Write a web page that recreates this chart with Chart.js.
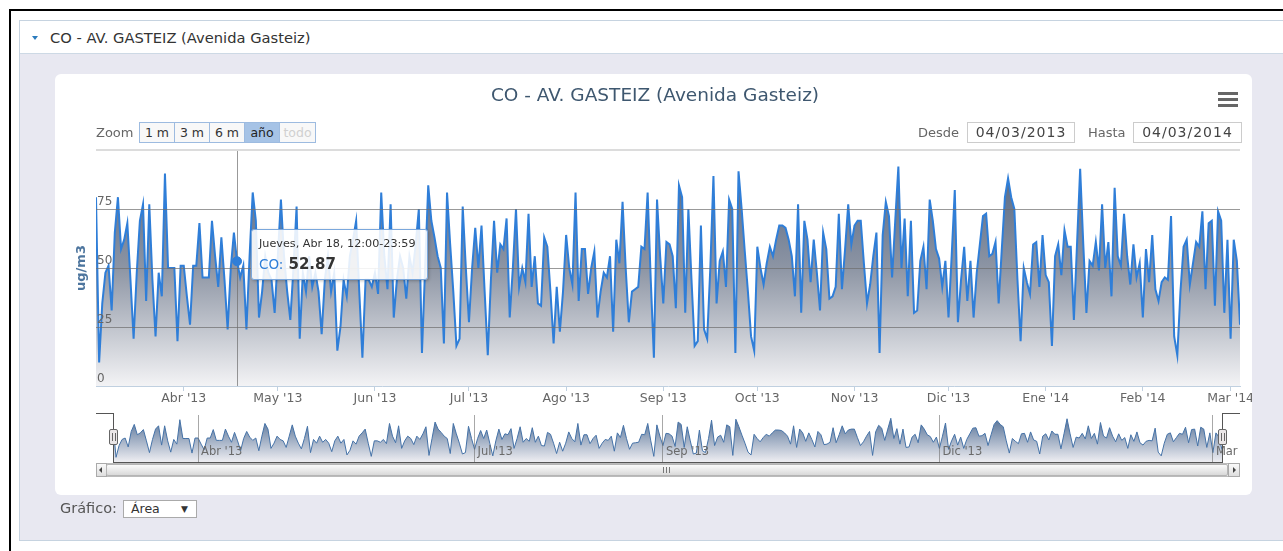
<!DOCTYPE html>
<html>
<head>
<meta charset="utf-8">
<title>CO - AV. GASTEIZ</title>
<script src="https://cdn.jsdelivr.net/npm/chart.js@4.4.1/dist/chart.umd.min.js"></script>
<style>
  body { margin: 0; width: 1283px; height: 551px; overflow: hidden; background: #fff; position: relative;
         font-family: 'DejaVu Sans', Verdana, sans-serif; }
  .abs { position: absolute; box-sizing: border-box; }
  #frame { left: 9px; top: 9px; width: 1300px; height: 600px; border-top: 2px solid #000; border-left: 2px solid #000; }
  #panel { left: 19px; top: 20px; width: 1300px; height: 521px; background: #e8e8f1; border: 1px solid #c6d3e0; }
  #panelHead { left: 20px; top: 21px; width: 1300px; height: 33px; background: #fff; border-bottom: 1px solid #cdd9e5; }
  #caret { left: 32px; top: 36px; width: 0; height: 0; border-left: 3px solid transparent; border-right: 3px solid transparent; border-top: 4px solid #2b7bbd; }
  #panelTitle { left: 50px; top: 28px; font-size: 14.7px; line-height: 20px; color: #333; white-space: nowrap; }
  #card { left: 55px; top: 74px; width: 1197px; height: 421px; background: #fff; border-radius: 6px; }
  canvas { position: absolute; }
  .lbl { font-size: 13px; color: #666; line-height: 21px; height: 21px; top: 122px; white-space: nowrap; }
  .btn { top: 122px; height: 21px; border: 1px solid #9dbbe0; background: #f8f8f8; font-size: 12.5px; line-height: 19px;
         text-align: center; color: #333; }
  .btn.sel { background: #a6c3e6; color: #222; }
  .btn.off { color: #d0d0d0; }
  .date { top: 122px; height: 21px; border: 1px solid #cccccc; background: #fff; font-size: 14px; line-height: 19px;
          text-align: center; color: #444; letter-spacing: 1px; }
  .bar { left: 1218px; width: 20px; height: 3px; background: #666; }
  #tip { display: none; width: 177px; height: 51px; background: rgba(255,255,255,0.88); border: 1px solid #7aa7dc;
         border-radius: 3px; box-shadow: 1px 1px 3px rgba(0,0,0,0.25); }
  #tip .t1 { position: absolute; left: 7px; top: 7px; font-size: 11.2px; color: #333; white-space: nowrap; }
  #tip .t2 { position: absolute; left: 7px; top: 24px; white-space: nowrap; }
  #tip .t2name { font-size: 13.5px; color: #2f7ed8; }
  #tip .t2val { font-size: 15px; font-weight: bold; color: #333; }
  .ln { background: #555; }
  .handle { top: 429px; width: 9px; height: 16px; background: #ebe7e8; border: 1px solid #666; border-radius: 2px; }
  .handle i { position: absolute; top: 3px; width: 1px; height: 8px; background: #666; }
  #scroll { left: 96px; top: 463px; width: 1144px; height: 14px; background: #eee; border: 1px solid #bbb; }
  .sbtn { top: 463px; height: 14px; border: 1px solid #aaa; background: linear-gradient(#fafafa, #dedede); }
  #thumb { left: 106px; top: 464px; width: 1122px; height: 12px; background: linear-gradient(#fbfbfb, #d9d9d9);
           border: 1px solid #b5b5b5; border-radius: 2px; }
  .grip { top: 467px; width: 1px; height: 6px; background: #777; }
  #grafLbl { left: 60px; top: 498px; font-size: 14.5px; line-height: 20px; color: #555; }
  #select { left: 123px; top: 500px; width: 74px; height: 18px; border: 1px solid #aaa; background: #fff;
            font-size: 12.5px; line-height: 16px; color: #333; padding-left: 7px; }
  #select span { position: absolute; right: 8px; top: 0; font-size: 9px; }
</style>
</head>
<body>
<div id="frame" class="abs"></div>
<div id="panel" class="abs"></div>
<div id="panelHead" class="abs"></div>
<div id="caret" class="abs"></div>
<div id="panelTitle" class="abs"></div>
<div id="card" class="abs"></div>

<canvas id="main" width="1182" height="336" style="left:70px; top:74px;"></canvas>
<canvas id="nav" width="1144" height="49" style="left:96px; top:413px;"></canvas>

<div class="abs lbl" style="left:96px;">Zoom</div>
<div class="abs btn" style="left:139px; width:36px;">1 m</div>
<div class="abs btn" style="left:174px; width:36px;">3 m</div>
<div class="abs btn" style="left:209px; width:36px;">6 m</div>
<div class="abs btn sel" style="left:244px; width:36px;">año</div>
<div class="abs btn off" style="left:279px; width:37px;">todo</div>

<div class="abs lbl" style="left:918px;">Desde</div>
<div class="abs date" id="fromBox" style="left:967px; width:108px;"></div>
<div class="abs lbl" style="left:1088px;">Hasta</div>
<div class="abs date" id="toBox" style="left:1133px; width:109px;"></div>

<div class="abs bar" style="top:92px;"></div>
<div class="abs bar" style="top:98px;"></div>
<div class="abs bar" style="top:104px;"></div>

<!-- navigator outline, handles and scrollbar -->
<div class="abs ln" style="left:96px; top:413px; width:17px; height:1px;"></div>
<div class="abs ln" style="left:113px; top:413px; width:1px; height:50px;"></div>
<div class="abs ln" style="left:113px; top:462px; width:1110px; height:1px;"></div>
<div class="abs ln" style="left:1222px; top:413px; width:1px; height:50px;"></div>
<div class="abs ln" style="left:1222px; top:413px; width:18px; height:1px;"></div>
<div id="scroll" class="abs"></div>
<div class="abs sbtn" style="left:96px; width:11px;"></div>
<div class="abs" style="left:99px; top:467px; width:0; height:0; border-top:3px solid transparent; border-bottom:3px solid transparent; border-right:3px solid #444;"></div>
<div id="thumb" class="abs"></div>
<div class="abs grip" style="left:663px;"></div>
<div class="abs grip" style="left:666px;"></div>
<div class="abs grip" style="left:669px;"></div>
<div class="abs sbtn" style="left:1228px; width:12px;"></div>
<div class="abs" style="left:1233px; top:467px; width:0; height:0; border-top:3px solid transparent; border-bottom:3px solid transparent; border-left:3px solid #444;"></div>
<div class="abs handle" style="left:109px;"><i style="left:2px;"></i><i style="left:5px;"></i></div>
<div class="abs handle" style="left:1218px;"><i style="left:2px;"></i><i style="left:5px;"></i></div>

<div id="grafLbl" class="abs">Gráfico:</div>
<div id="select" class="abs">Área<span>▼</span></div>

<div id="tip" class="abs"><div class="t1"></div><div class="t2"><span class="t2name"></span> <span class="t2val"></span></div></div>

<script>
const chartTitle = 'CO - AV. GASTEIZ (Avenida Gasteiz)';
const seriesName = 'CO';
const yAxisTitle = 'ug/m3';
const rangeFrom = '04/03/2013';
const rangeTo = '04/03/2014';
const startDate = [2013, 2, 4]; // 4 March 2013, one value per day
const highlightIndex = 45;      // Jueves, Abr 18

const dayNames = ['Domingo', 'Lunes', 'Martes', 'Miércoles', 'Jueves', 'Viernes', 'Sábado'];
const monthNames = ['Ene', 'Feb', 'Mar', 'Abr', 'May', 'Jun', 'Jul', 'Ago', 'Sep', 'Oct', 'Nov', 'Dic'];

// day offsets of the axis ticks and their labels
const monthTickDays = [28, 58, 89, 119, 150, 181, 211, 242, 272, 303, 334, 362];
const monthTickLabels = ["Abr '13", "May '13", "Jun '13", "Jul '13", "Ago '13", "Sep '13",
  "Oct '13", "Nov '13", "Dic '13", "Ene '14", "Feb '14", "Mar '14"];
const navTickDays = [28, 119, 181, 272, 362];
const navTickLabels = ["Abr '13", "Jul '13", "Sep '13", "Dic '13", "Mar '14"];

// daily CO values, ug/m3
const coValues = [
  80, 10, 35, 48, 51, 32, 65, 80, 58, 62,
  69, 45, 20, 48, 70, 77, 36, 77, 45, 21,
  48, 38, 90, 50, 50, 50, 19, 51, 51, 38,
  26, 51, 51, 69, 46, 46, 46, 70, 55, 42,
  63, 45, 24, 50, 65, 52.87, 46, 51, 24, 55,
  82, 70, 29, 40, 55, 48, 45, 31, 55, 79,
  55, 40, 28, 50, 76, 20, 48, 40, 55, 42,
  48, 40, 22, 45, 55, 40, 48, 15, 25, 45,
  38, 55, 62, 70, 40, 12, 45, 45, 42, 48,
  39, 82, 55, 41, 77, 29, 45, 55, 50, 37,
  55, 48, 60, 75, 14, 50, 85, 70, 63, 55,
  50, 18, 82, 60, 40, 17, 20, 76, 50, 27,
  50, 67, 50, 68, 40, 13, 45, 70, 48, 60,
  58, 71, 29, 50, 75, 42, 50, 44, 73, 42,
  55, 35, 34, 63, 59, 40, 18, 42, 23, 40,
  64, 50, 43, 82, 36, 58, 58, 39, 50, 57,
  29, 40, 48, 46, 55, 23, 62, 52, 78, 50,
  27, 40, 41, 42, 59, 58, 82, 45, 12, 79,
  55, 35, 61, 60, 55, 33, 85, 80, 31, 75,
  45, 17, 19, 68, 24, 20, 50, 89, 35, 53,
  57, 42, 79, 75, 14, 91, 75, 57, 40, 21,
  15, 59, 50, 43, 52, 59, 55, 62, 68, 68,
  67, 62, 55, 38, 77, 31, 70, 62, 44, 62,
  48, 32, 65, 58, 37, 38, 42, 73, 41, 58,
  77, 60, 68, 70, 70, 52, 35, 43, 55, 65,
  14, 64, 78, 72, 46, 70, 93, 50, 71, 38,
  70, 31, 32, 53, 59, 41, 79, 70, 58, 54,
  42, 53, 29, 55, 83, 27, 45, 59, 36, 53,
  29, 48, 60, 72, 73, 55, 56, 61, 35, 58,
  80, 88, 80, 75, 45, 19, 50, 44, 39, 60,
  61, 42, 64, 47, 44, 17, 55, 60, 47, 66,
  59, 59, 28, 60, 92, 60, 31, 53, 51, 61,
  49, 77, 50, 61, 38, 84, 55, 51, 73, 55,
  43, 60, 46, 52, 29, 58, 44, 64, 41, 36,
  44, 46, 45, 72, 21, 13, 40, 59, 62, 43,
  52, 61, 59, 74, 41, 69, 70, 34, 74, 70,
  31, 62, 20, 62, 53, 26
];

const lastDay = coValues.length - 1;
const points = coValues.map((v, i) => ({ x: i, y: v }));

document.getElementById('panelTitle').textContent = chartTitle;
document.getElementById('fromBox').textContent = rangeFrom;
document.getElementById('toBox').textContent = rangeTo;

Chart.defaults.font.family = "'DejaVu Sans', Verdana, sans-serif";

function areaGradient(stops) {
  return (ctx) => {
    const area = ctx.chart.chartArea;
    if (!area) return stops[stops.length - 1][1];
    const g = ctx.chart.ctx.createLinearGradient(0, area.top, 0, area.bottom);
    stops.forEach(s => g.addColorStop(s[0], s[1]));
    return g;
  };
}

function externalTooltip(context) {
  const tip = context.tooltip;
  const el = document.getElementById('tip');
  if (tip.opacity === 0 || !tip.dataPoints || !tip.dataPoints.length) {
    el.style.display = 'none';
    return;
  }
  const dp = tip.dataPoints[0];
  const d = new Date(Date.UTC(startDate[0], startDate[1], startDate[2] + dp.dataIndex));
  el.querySelector('.t1').textContent = dayNames[d.getUTCDay()] + ', ' + monthNames[d.getUTCMonth()] + ' ' +
    d.getUTCDate() + ', 12:00-23:59';
  el.querySelector('.t2name').textContent = seriesName + ':';
  el.querySelector('.t2val').textContent = dp.parsed.y.toFixed(2);
  const cv = context.chart.canvas;
  el.style.left = (cv.offsetLeft + tip.caretX + 14) + 'px';
  el.style.top = (cv.offsetTop + tip.caretY - 32) + 'px';
  el.style.display = 'block';
}

// vertical crosshair under the line, over the fill
const crosshair = {
  id: 'crosshair',
  beforeDatasetDraw(chart, args) {
    const act = chart.getActiveElements();
    if (args.index !== 0 || !act.length) return;
    const x = Math.round(act[0].element.x) + 0.5;
    const { top, bottom } = chart.chartArea;
    const c = chart.ctx;
    c.save();
    c.strokeStyle = 'rgba(110,110,110,0.7)';
    c.lineWidth = 1;
    c.beginPath();
    c.moveTo(x, top);
    c.lineTo(x, bottom);
    c.stroke();
    c.restore();
  }
};

const mainChart = new Chart(document.getElementById('main'), {
  type: 'line',
  data: {
    datasets: [{
      label: seriesName,
      data: points,
      borderColor: '#2f7ed8',
      borderWidth: 2,
      tension: 0,
      pointRadius: 0,
      pointHoverRadius: 4.5,
      pointHoverBackgroundColor: '#2f7ed8',
      pointHoverBorderColor: '#2f7ed8',
      pointHoverBorderWidth: 1,
      fill: 'origin',
      backgroundColor: areaGradient([[0, '#4a5f7e'], [0.5, '#8d95a4'], [1, '#f3f3f5']])
    }]
  },
  options: {
    responsive: false,
    animation: false,
    events: [],
    layout: { padding: { left: 0, right: 12, top: 0, bottom: 0 } },
    plugins: {
      legend: { display: false },
      title: {
        display: true,
        text: chartTitle,
        color: '#3e576f',
        font: { size: 18.5, weight: 'normal' },
        padding: { top: 11, bottom: 42.8 }
      },
      tooltip: { enabled: false, external: externalTooltip }
    },
    scales: {
      x: {
        type: 'linear',
        min: 0,
        max: lastDay,
        afterBuildTicks: s => { s.ticks = monthTickDays.map(v => ({ value: v })); },
        afterFit: s => { s.height = 24; s.paddingLeft = 0; s.paddingRight = 0; },
        ticks: {
          autoSkip: false,
          maxRotation: 0,
          padding: 0,
          color: '#666',
          font: { size: 12.5 },
          callback: v => monthTickLabels[monthTickDays.indexOf(v)]
        },
        grid: { drawOnChartArea: false, drawTicks: true, tickLength: 5, color: '#c0d0e0' },
        border: { color: '#c0d0e0' }
      },
      y: {
        min: 0,
        max: 100,
        afterFit: s => { s.width = 26; s.paddingTop = 0; s.paddingBottom = 0; },
        ticks: {
          z: 1,
          stepSize: 25,
          mirror: true,
          padding: 1,
          labelOffset: -7,
          color: '#666',
          font: { size: 12 },
          callback: v => (v === 100 ? '' : v)
        },
        grid: {
          z: 1,
          drawTicks: false,
          color: c => (c.tick.value === 100 ? '#dcdcdc' : (c.tick.value === 0 ? 'rgba(0,0,0,0)' : 'rgba(110,110,110,0.7)')),
          lineWidth: c => (c.tick.value === 100 ? 2 : 1)
        },
        border: { display: false },
        title: {
          display: true,
          text: yAxisTitle,
          color: '#4d759e',
          font: { size: 13, weight: 'bold' },
          padding: { top: 4, bottom: 0 }
        }
      }
    }
  },
  plugins: [crosshair]
});

const hl = [{ datasetIndex: 0, index: highlightIndex }];
mainChart.setActiveElements(hl);
const hlPoint = mainChart.getDatasetMeta(0).data[highlightIndex];
mainChart.tooltip.setActiveElements(hl, { x: hlPoint.x, y: hlPoint.y });
mainChart.update();

const navChart = new Chart(document.getElementById('nav'), {
  type: 'line',
  data: {
    datasets: [{
      data: points,
      borderColor: '#4572a7',
      borderWidth: 1,
      tension: 0,
      pointRadius: 0,
      fill: 'origin',
      backgroundColor: areaGradient([[0, '#4a6890'], [1, '#eeeef2']])
    }]
  },
  options: {
    responsive: false,
    animation: false,
    events: [],
    layout: { padding: { left: 17, right: 18, top: 2, bottom: 0 } },
    plugins: { legend: { display: false }, tooltip: { enabled: false } },
    scales: {
      x: {
        type: 'linear',
        min: 0,
        max: lastDay,
        afterBuildTicks: s => { s.ticks = navTickDays.map(v => ({ value: v })); },
        afterFit: s => { s.height = 0; s.paddingLeft = 0; s.paddingRight = 0; },
        ticks: {
          z: 1,
          autoSkip: false,
          maxRotation: 0,
          align: 'start',
          mirror: true,
          labelOffset: 3,
          padding: 3,
          color: '#6a6a6a',
          font: { size: 11.5 },
          callback: v => navTickLabels[navTickDays.indexOf(v)]
        },
        grid: { z: 1, color: 'rgba(110,110,110,0.6)', drawTicks: false },
        border: { display: false }
      },
      y: { display: false, min: 0, max: 100 }
    }
  }
});
</script>
</body>
</html>
